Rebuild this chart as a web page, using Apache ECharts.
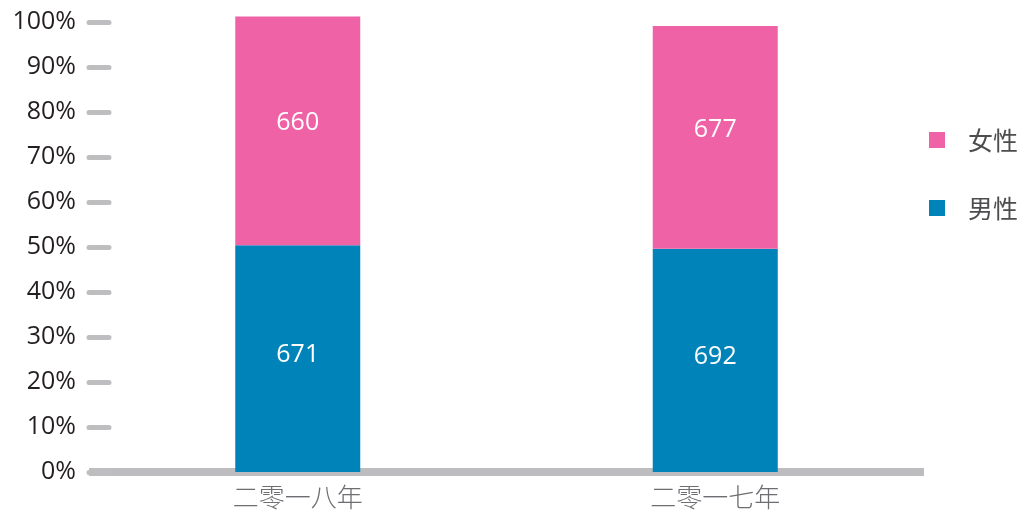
<!DOCTYPE html>
<html>
<head>
<meta charset="utf-8">
<script src="https://cdn.jsdelivr.net/npm/echarts@6/dist/echarts.min.js"></script>
<style>
  html, body { margin: 0; padding: 0; background: #fff; }
  #chart { width: 1024px; height: 514px; }
</style>
</head>
<body>
<div id="chart"></div>
<script>
// categories and tick labels
const years = ['二零一八年', '二零一七年']
const yTicks = [0, 10, 20, 30, 40, 50, 60, 70, 80, 90, 100]

// plotted heights (percent)
const maleShare = [50.4, 49.6]
const femaleShare = [50.8, 49.5]

// counts printed on the bars
const maleCounts = [671, 692]
const femaleCounts = [660, 677]

const chart = echarts.init(document.getElementById('chart'))

const barLabel = function (counts, dy) {
  return {
    show: true,
    position: 'inside',
    offset: [0, dy],
    color: '#fff',
    fontFamily: 'Open Sans',
    fontSize: 25,
    formatter: function (p) { return counts[p.dataIndex] }
  }
}

chart.setOption({
  animation: false,
  grid: { left: 89, right: 100, top: 22, bottom: 42 },
  legend: {
    data: ['女性', '男性'],
    orient: 'vertical',
    left: 929,
    top: 125,
    padding: 0,
    icon: 'rect',
    itemWidth: 16,
    itemHeight: 16,
    itemGap: 38,
    textStyle: {
      color: '#4d4d4f',
      fontFamily: 'Noto Sans CJK SC',
      fontSize: 25,
      lineHeight: 30,
      padding: [0, 0, 0, 18]
    }
  },
  xAxis: {
    type: 'category',
    data: years,
    axisLine: { show: true, lineStyle: { color: '#bdbdbf', width: 8, cap: 'butt' } },
    axisTick: { show: false },
    axisLabel: {
      color: '#6d6e71',
      fontFamily: 'Noto Sans CJK SC',
      fontWeight: 300,
      fontSize: 26,
      margin: 12
    }
  },
  yAxis: {
    type: 'value',
    min: yTicks[0],
    max: yTicks[yTicks.length - 1],
    interval: 10,
    splitLine: { show: false },
    axisLine: { show: false },
    axisTick: {
      show: true,
      inside: true,
      length: 20,
      lineStyle: { color: '#bebec0', width: 5, cap: 'round' }
    },
    axisLabel: {
      color: '#231f20',
      fontFamily: 'Open Sans',
      fontSize: 25,
      margin: 13,
      formatter: '{value}%'
    }
  },
  series: [
    {
      name: '男性',
      type: 'bar',
      stack: 'total',
      barWidth: 125,
      clip: false,
      itemStyle: { color: '#0083b8' },
      label: barLabel(maleCounts, -4),
      data: maleShare
    },
    {
      name: '女性',
      type: 'bar',
      stack: 'total',
      barWidth: 125,
      clip: false,
      itemStyle: { color: '#f062a6' },
      label: barLabel(femaleCounts, -8),
      data: femaleShare
    }
  ]
})
</script>
</body>
</html>
